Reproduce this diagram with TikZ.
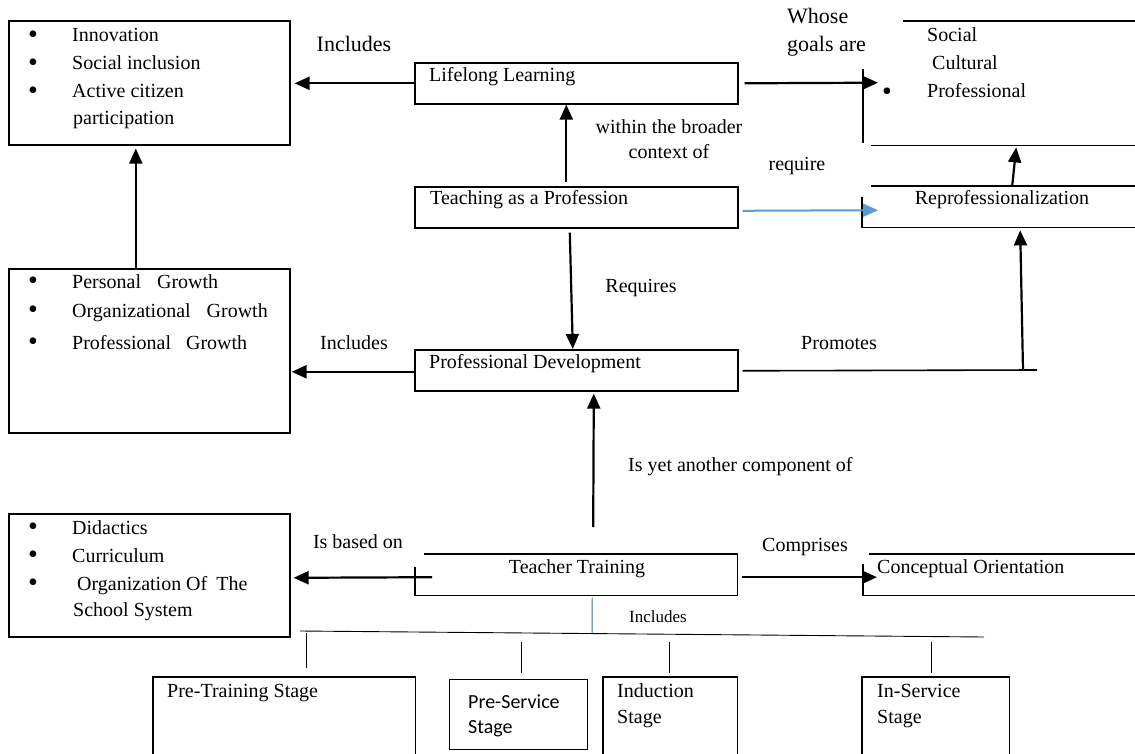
\documentclass[tikz,border=0pt]{standalone}
\usepackage{fontspec}
\setmainfont{Liberation Serif}
\newfontfamily\stagefont{Carlito}
\usetikzlibrary{arrows.meta, positioning, calc}

\definecolor{linkblue}{RGB}{91,155,213}
\newcommand\bigdot{\raisebox{-1.5pt}{\fontsize{28}{28}\selectfont\textbullet}}
\newcommand\bitem[1]{\makebox[44pt][l]{\bigdot}#1}

\begin{document}
\begin{tikzpicture}[x=1pt, y=-1pt,
  font=\fontsize{20}{25}\selectfont,
  every node/.style={inner sep=0pt},
  area/.style args={#1x#2}{anchor=north west, minimum width=#1pt, minimum height=#2pt},
  boxed/.style={area=#1, draw, line width=1.6pt},
  rim/.style={line width=1.6pt},
  stage/.style={line width=1.3pt},
  stub/.style={line width=0.9pt},
  txt/.style={anchor=base west},
  lbl/.style={anchor=base},
  big/.style={font=\fontsize{22}{29}\selectfont},
  arrow/.style={-{Triangle[length=15pt, width=13pt]}, line width=2.2pt}
]
  \useasboundingbox (0,0) rectangle (1135,754);

  % boxes
  \node[boxed=281x124] (innov) at (8,20) {};
  \node[boxed=281x164] (growth) at (8,268) {};
  \node[boxed=281x123] (found) at (8,513) {};
  \node[boxed=323x41] (lifelong) at (414,62) {};
  \node[boxed=323x41] (teach) at (414,186) {};
  \node[boxed=323x41] (profdev) at (414,349) {};
  \node[area=322x41] (training) at (415,554) {};
  \node[area=272x124] (goals) at (863,21) {};
  \node[area=273x41] (reprof) at (862,186) {};
  \node[area=272x41] (concept) at (863,554) {};
  \node[area=262x77] (pretrain) at (153,677) {};
  \node[boxed=138x70, line width=1.2pt] (preserv) at (449,679) {};
  \node[area=134x77] (induct) at (603,677) {};
  \node[area=147x77] (inserv) at (862,677) {};

  % open sides
  \draw[rim] ($(training.north west)+(9,0)$) -- (training.north east) -- (training.south east) -- (training.south west) -- ++(0,-28);
  \draw[rim] ($(goals.north west)+(40,0)$) -- (goals.north east);
  \draw[rim] ($(goals.north west)+(0,48)$) -- ($(goals.south west)+(0,-2)$);
  \draw[rim] ($(goals.south west)+(8,0)$) -- (goals.south east);
  \draw[rim] ($(reprof.north west)+(9,0)$) -- (reprof.north east);
  \draw[rim] (reprof.south east) -- (reprof.south west) -- ++(0,-30);
  \draw[rim] ($(concept.north west)+(6,0)$) -- (concept.north east);
  \draw[rim] (concept.south east) -- (concept.south west) -- ++(0,-31);
  \foreach \n in {pretrain, induct, inserv}
    \draw[stage] (\n.south west) -- (\n.north west) -- (\n.north east) -- (\n.south east);

  % box texts
  \foreach \t [count=\i] in {Innovation, Social inclusion, Active citizen}
    \node[txt] (innov-\i) at (28,14+28*\i) {\bitem{\t}};
  \node[txt] (innov-4) at (73,125) {participation};
  \foreach \t/\y [count=\i] in {{Personal\hspace{16pt}Growth}/288, {Organizational\hspace{16pt}Growth}/317, {Professional\hspace{15pt}Growth}/349}
    \node[txt] (growth-\i) at (28,\y) {\bitem{\t}};
  \node[txt] (found-1) at (28,534) {\bitem{Didactics}};
  \node[txt] (found-2) at (28,562) {\bitem{Curriculum}};
  \node[txt] (found-3) at (28,590) {\bitem{\hspace{5pt}Organization Of\hspace{9pt}The}};
  \node[txt] (found-4) at (73,616) {School System};
  \node[txt] (goals-b) at (882,99) {\bigdot};
  \node[txt] (goals-1) at (927,42) {Social};
  \node[txt] (goals-2) at (932,70) {Cultural};
  \node[txt] (goals-3) at (927,98) {Professional};
  \node[txt] (lifelong-t) at (429,82) {Lifelong Learning};
  \node[txt] (teach-t) at (430,205) {Teaching as a Profession};
  \node[lbl] (reprof-t) at (1002,205) {Reprofessionalization};
  \node[txt] (profdev-t) at (429,368) {Professional Development};
  \node[lbl] (training-t) at (577,573) {Teacher Training};
  \node[txt] (concept-t) at (877,573) {Conceptual Orientation};
  \node[txt] (pretrain-t) at (167,697) {Pre-Training Stage};
  \node[txt, font=\stagefont\fontsize{20}{26}\selectfont] (preserv-1) at (468,708) {Pre-Service};
  \node[txt, font=\stagefont\fontsize{20}{26}\selectfont] (preserv-2) at (468,733) {Stage};
  \node[txt] (induct-1) at (617,697) {Induction};
  \node[txt] (induct-2) at (617,723) {Stage};
  \node[txt] (inserv-1) at (877,697) {In-Service};
  \node[txt] (inserv-2) at (877,723) {Stage};

  % link labels
  \node[lbl, big] (incl-a) at (354,52) {Includes};
  \node[txt, big] (whose-1) at (787,24) {Whose};
  \node[txt, big] (whose-2) at (787,52) {goals are};
  \node[lbl] (within-1) at (669,134) {within the broader};
  \node[lbl] (within-2) at (669,159) {context of};
  \node[lbl] (require) at (797,171) {require};
  \node[lbl] (requires) at (641,292) {Requires};
  \node[lbl] (incl-b) at (354,349) {Includes};
  \node[lbl] (promotes) at (839,349) {Promotes};
  \node[txt] (component) at (628,471) {Is yet another component of};
  \node[lbl] (based) at (358,548) {Is based on};
  \node[lbl] (comprises) at (805,551) {Comprises};
  \node[lbl, font=\fontsize{17}{20}\selectfont] (incl-c) at (658,622) {Includes};

  % connectors
  \draw[arrow] (lifelong.west) -- ($(innov.east)+(4,0.5)$);
  \draw[arrow] ($(lifelong.east)+(6,0)$) -- ($(goals.west)+(15,-0.5)$);
  \draw[arrow] ($(teach.north)+(-10,-4)$) -- ($(lifelong.south)+(-10,0)$);
  \draw[arrow, draw=linkblue, line width=2pt] ($(teach.east)+(4,3.5)$) -- ($(reprof.west)+(16,3.5)$);
  \draw[arrow] ($(reprof.north)+(13.5,0)$) -- ($(goals.south)+(17,2)$);
  \draw[arrow] ($(teach.south)+(-6.5,4)$) -- ($(profdev.north)+(-3.5,0)$);
  \draw[arrow] ($(growth.north)+(-13.5,0)$) -- ($(innov.south)+(-13.5,3)$);
  \draw[arrow] ($(profdev.west)+(0,1.5)$) -- ($(growth.east)+(1,21)$);
  \coordinate (promend) at (1037,370);
  \draw[rim] ($(profdev.east)+(4,0.5)$) -- (promend);
  \draw[arrow] ($(promend)+(-14,0)$) -- ($(reprof.south)+(21.5,3)$);
  \draw[arrow] ($(training.north)+(17,-27)$) -- ($(profdev.south)+(17.5,2)$);
  \draw[arrow] ($(training.west)+(17,2.5)$) -- ($(found.east)+(3,2.5)$);
  \draw[arrow] ($(training.east)+(5,2.5)$) -- ($(concept.west)+(14,2.5)$);

  % stages
  \coordinate (busL) at (300,631);
  \coordinate (busR) at (984,637);
  \draw[stub, draw=linkblue!70!black] ($(training.south)+(16,2)$) -- ($(busL)!0.427!(busR)$);
  \draw[stub] (busL) -- (busR);
  \draw[stub] ($(pretrain.north)+(22,-44)$) -- ++(0,35);
  \foreach \n/\dx/\dy in {preserv/3/-37, induct/-1/-35, inserv/-4/-35}
    \draw[stub] ($(\n.north)+(\dx,\dy)$) -- ++(0,31);
\end{tikzpicture}
\end{document}
